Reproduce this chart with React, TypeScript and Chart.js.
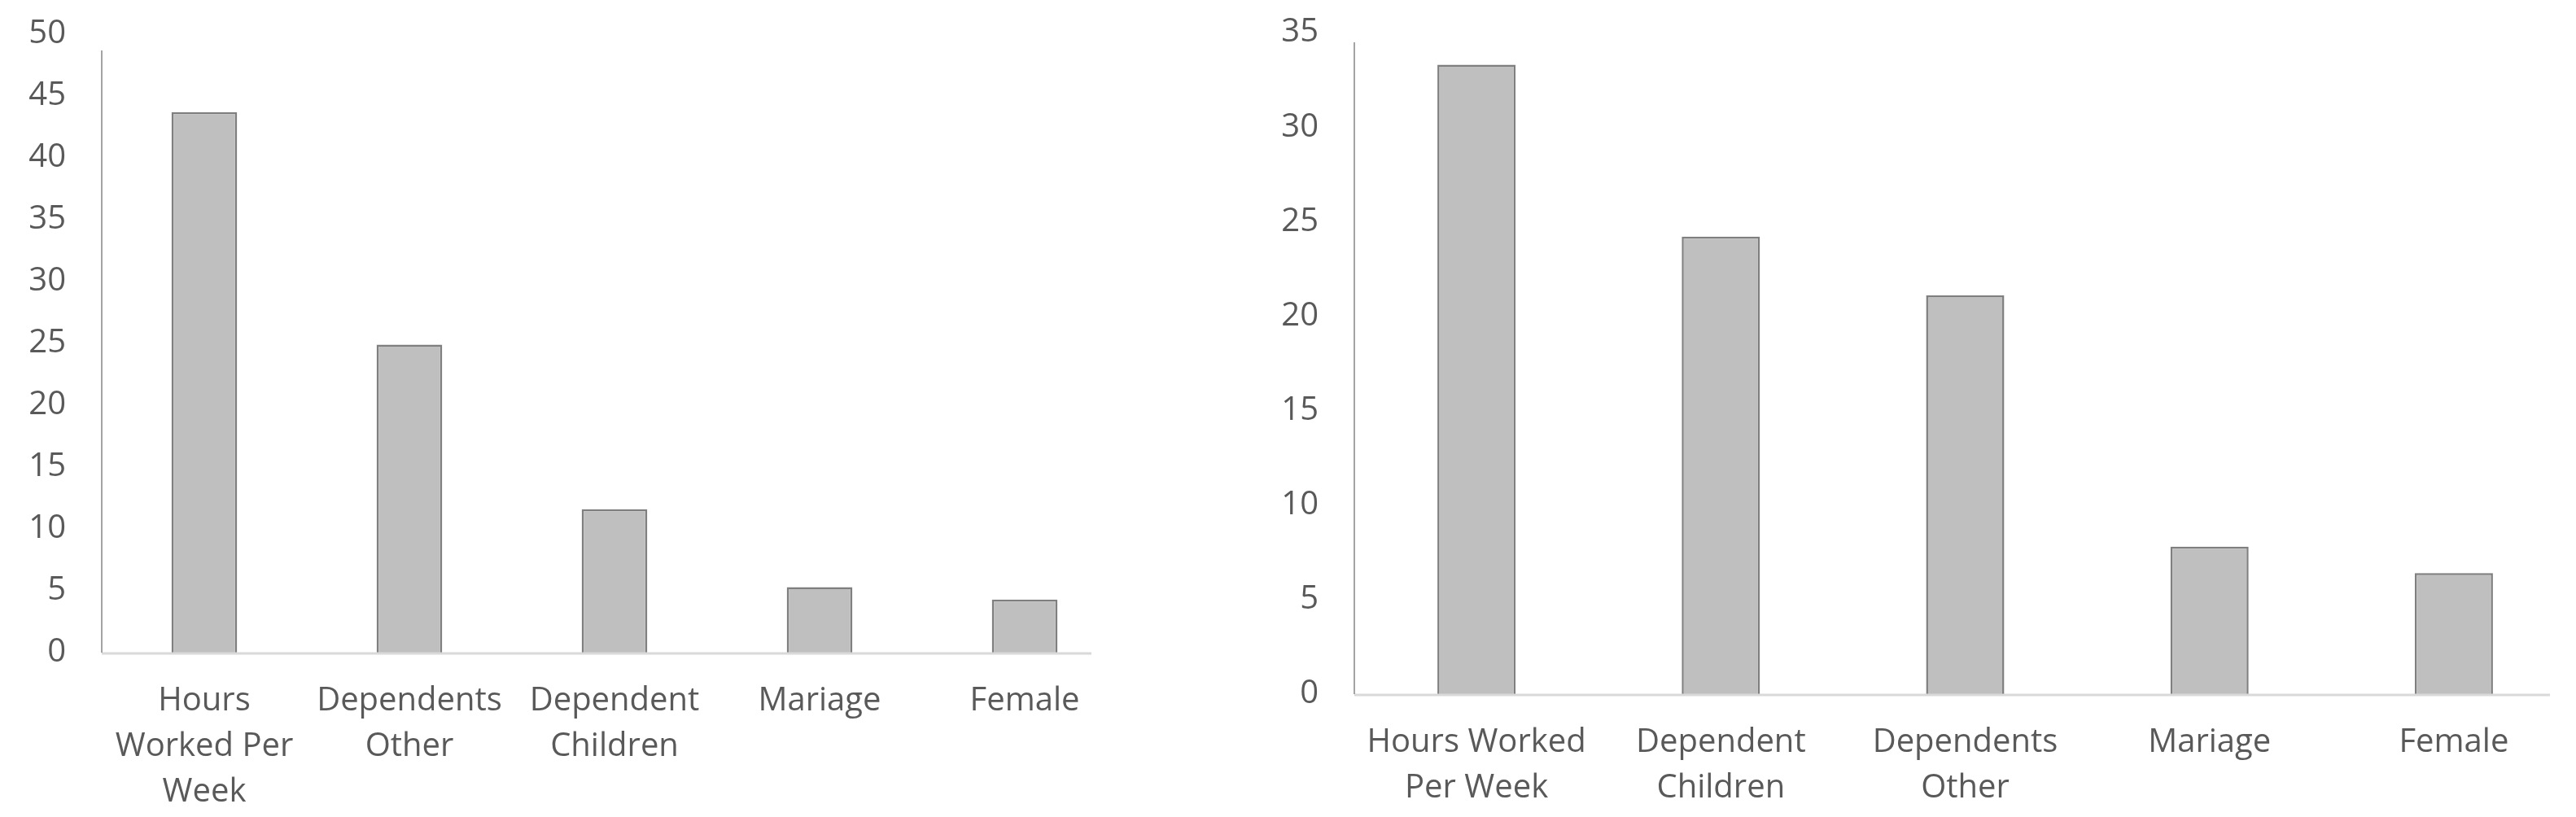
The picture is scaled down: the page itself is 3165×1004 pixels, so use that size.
import React, { useEffect, useRef } from "react";
import { Chart, registerables } from "chart.js";

Chart.register(...registerables);

// ---- Data ----
const leftCategories: string[][] = [
  ["Hours", "Worked Per", "Week"],
  ["Dependents", "Other"],
  ["Dependent", "Children"],
  ["Mariage"],
  ["Female"],
];
const leftValues: number[] = [43.7, 24.9, 11.6, 5.3, 4.3];
const leftAxisMax = 50;
const leftAxisStep = 5;

const rightCategories: string[][] = [
  ["Hours Worked", "Per Week"],
  ["Dependent", "Children"],
  ["Dependents", "Other"],
  ["Mariage"],
  ["Female"],
];
const rightValues: number[] = [33.3, 24.2, 21.1, 7.8, 6.4];
const rightAxisMax = 35;
const rightAxisStep = 5;

// ---- Styles ----
const FONT = "'Open Sans', 'Noto Sans', sans-serif";
const TEXT_COLOR = "#595959";
const BAR_FILL = "#BFBFBF";
const BAR_BORDER = "#7F7F7F";

const axisLines = {
  id: "axisLines",
  afterDatasetsDraw(chart: any, _args: any, opts: any) {
    const { ctx, chartArea: a } = chart;
    ctx.save();
    ctx.strokeStyle = opts.xColor;
    ctx.lineWidth = opts.xWidth;
    ctx.beginPath();
    const yb = a.bottom + opts.xWidth / 2 - 0.5;
    ctx.moveTo(a.left, yb);
    ctx.lineTo(a.right - opts.xRightInset, yb);
    ctx.stroke();
    ctx.strokeStyle = opts.yColor;
    ctx.lineWidth = opts.yWidth;
    ctx.beginPath();
    ctx.moveTo(a.left, a.top + opts.yTopInset);
    ctx.lineTo(a.left, a.bottom);
    ctx.stroke();
    ctx.restore();
  },
};

type Props = {
  labels: string[][];
  values: number[];
  max: number;
  step: number;
  left: number;
  width: number;
  height: number;
  yAxisWidth: number;
  xAxisHeight: number;
  padTop: number;
  padRight: number;
  lineHeight: number;
  yTopInset: number;
  xRightInset: number;
};

function BarChart(p: Props) {
  const ref = useRef<HTMLCanvasElement>(null);
  useEffect(() => {
    if (!ref.current) return;
    const chart = new Chart(ref.current, {
      type: "bar",
      data: {
        labels: p.labels as any,
        datasets: [
          {
            data: p.values,
            backgroundColor: BAR_FILL,
            borderColor: BAR_BORDER,
            borderWidth: 2.5,
            barPercentage: 0.32,
            categoryPercentage: 1,
          },
        ],
      },
      options: {
        animation: false,
        responsive: false,
        devicePixelRatio: 1,
        layout: { padding: { top: p.padTop, right: p.padRight, bottom: 0, left: 0 } },
        plugins: {
          legend: { display: false },
          tooltip: { enabled: false },
          title: { display: false },
          axisLines: {
            xColor: "#D9D9D9",
            xWidth: 3,
            xRightInset: p.xRightInset,
            yColor: "#868686",
            yWidth: 1.5,
            yTopInset: p.yTopInset,
          },
        } as any,
        scales: {
          x: {
            offset: true,
            grid: { display: false, drawTicks: false },
            border: { display: false },
            ticks: {
              color: TEXT_COLOR,
              font: { family: FONT, size: 40, lineHeight: p.lineHeight },
              padding: 32,
              maxRotation: 0,
              minRotation: 0,
              autoSkip: false,
            },
            afterFit: (s: any) => {
              s.height = p.xAxisHeight;
              s.paddingLeft = 0;
              s.paddingRight = 0;
            },
          },
          y: {
            min: 0,
            max: p.max,
            grid: { display: false, drawTicks: false },
            border: { display: false },
            ticks: {
              stepSize: p.step,
              color: TEXT_COLOR,
              font: { family: FONT, size: 40 },
              padding: 44,
            },
            afterFit: (s: any) => {
              s.width = p.yAxisWidth;
              s.paddingTop = 0;
              s.paddingBottom = 0;
            },
          },
        },
      },
      plugins: [axisLines],
    });
    return () => chart.destroy();
  }, []);
  return (
    <canvas
      ref={ref}
      width={p.width}
      height={p.height}
      style={{ position: "absolute", left: p.left, top: 0, width: p.width, height: p.height }}
    />
  );
}

export default function App() {
  return (
    <div
      style={{
        position: "fixed",
        left: 0,
        top: 0,
        width: 3165,
        height: 1004,
        background: "#ffffff",
        overflow: "hidden",
      }}
    >
      <BarChart
        labels={leftCategories}
        values={leftValues}
        max={leftAxisMax}
        step={leftAxisStep}
        left={0}
        width={1400}
        height={1004}
        yAxisWidth={125}
        xAxisHeight={202}
        padTop={42}
        padRight={15}
        lineHeight={1.4}
        yTopInset={20}
        xRightInset={44}
      />
      <BarChart
        labels={rightCategories}
        values={rightValues}
        max={rightAxisMax}
        step={rightAxisStep}
        left={1480}
        width={1685}
        height={1004}
        yAxisWidth={184}
        xAxisHeight={151}
        padTop={40}
        padRight={0}
        lineHeight={1.4}
        yTopInset={12}
        xRightInset={32}
      />
    </div>
  );
}
